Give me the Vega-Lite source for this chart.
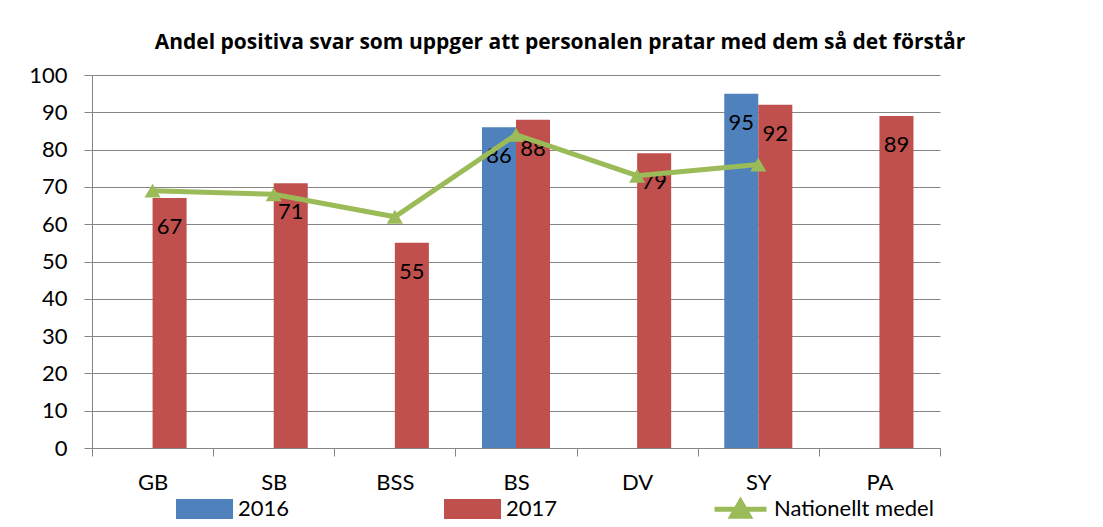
{
  "$schema": "https://vega.github.io/schema/vega-lite/v6.json",
  "width": 848,
  "height": 373,
  "autosize": {"type": "none"},
  "padding": {"left": 92, "top": 75, "right": 163, "bottom": 79},
  "background": "white",
  "config": {"view": {"stroke": null}, "font": "Lato"},
  "title": {
    "text": "Andel positiva svar som uppger att personalen pratar med dem så det förstår",
    "fontSize": 21,
    "fontWeight": "bold",
    "font": "Open Sans",
    "color": "black",
    "anchor": "middle",
    "frame": "group",
    "dx": 44,
    "offset": 11
  },
  "data": {
    "values": [
      {"kat": "GB", "serie": "2017", "value": 67},
      {"kat": "SB", "serie": "2017", "value": 71},
      {"kat": "BSS", "serie": "2017", "value": 55},
      {"kat": "BS", "serie": "2016", "value": 86},
      {"kat": "BS", "serie": "2017", "value": 88},
      {"kat": "DV", "serie": "2017", "value": 79},
      {"kat": "SY", "serie": "2016", "value": 95},
      {"kat": "SY", "serie": "2017", "value": 92},
      {"kat": "PA", "serie": "2017", "value": 89},
      {"kat": "GB", "serie": "Nationellt medel", "value": 69},
      {"kat": "SB", "serie": "Nationellt medel", "value": 68},
      {"kat": "BSS", "serie": "Nationellt medel", "value": 62},
      {"kat": "BS", "serie": "Nationellt medel", "value": 84},
      {"kat": "DV", "serie": "Nationellt medel", "value": 73},
      {"kat": "SY", "serie": "Nationellt medel", "value": 76}
    ]
  },
  "encoding": {
    "x": {
      "field": "kat",
      "type": "nominal",
      "sort": ["GB", "SB", "BSS", "BS", "DV", "SY", "PA"],
      "scale": {"paddingInner": 0, "paddingOuter": 0},
      "axis": {
        "title": null,
        "labelAngle": 0,
        "labelFontSize": 22,
        "labelColor": "black",
        "labelPadding": 16,
        "tickSize": 8,
        "tickColor": "#868686",
        "domainColor": "#868686",
        "tickBand": "extent",
        "grid": false
      }
    },
    "y": {
      "field": "value",
      "type": "quantitative",
      "scale": {"domain": [0, 100]},
      "axis": {
        "title": null,
        "values": [0, 10, 20, 30, 40, 50, 60, 70, 80, 90, 100],
        "grid": true,
        "gridColor": "#868686",
        "gridOpacity": 1,
        "tickSize": 8,
        "tickColor": "#868686",
        "domainColor": "#868686",
        "labelFontSize": 22,
        "labelPadding": 17,
        "labelColor": "black"
      }
    }
  },
  "layer": [
    {
      "transform": [{"filter": "datum.serie != 'Nationellt medel'"}],
      "mark": {"type": "bar"},
      "encoding": {
        "xOffset": {
          "field": "serie",
          "type": "nominal",
          "scale": {"domain": ["2016", "2017"], "paddingInner": 0, "paddingOuter": 0.78}
        },
        "color": {
          "field": "serie",
          "type": "nominal",
          "scale": {
            "domain": ["2016", "2017", "Nationellt medel"],
            "range": ["#4F81BD", "#C0504D", "#9BBB59"]
          },
          "legend": {
            "title": null,
            "orient": "none",
            "legendX": 84,
            "legendY": 405,
            "direction": "horizontal",
            "columns": 3,
            "gridAlign": "all",
            "columnPadding": 38,
            "labelFontSize": 22,
            "labelColor": "black",
            "labelOffset": 5,
            "symbolSize": 2704,
            "encode": {
              "symbols": {
                "update": {
                  "shape": {"signal": "datum.value === 'Nationellt medel' ? 'M-1,0L1,0M-0.33,0.27L0,-0.3L0.33,0.27Z' : 'M-1,-0.29L1,-0.29L1,0.29L-1,0.29Z'"},
                  "fill": {"scale": "color", "field": "value"},
                  "stroke": {"signal": "datum.value === 'Nationellt medel' ? '#9BBB59' : null"},
                  "strokeWidth": {"value": 5},
                  "opacity": {"value": 1},
                  "fillOpacity": {"value": 1}
                }
              }
            }
          }
        }
      }
    },
    {
      "transform": [{"filter": "datum.serie != 'Nationellt medel'"}],
      "mark": {"type": "text", "baseline": "middle", "dy": 29, "fontSize": 22, "color": "black"},
      "encoding": {
        "xOffset": {
          "field": "serie",
          "type": "nominal",
          "scale": {"domain": ["2016", "2017"], "paddingInner": 0, "paddingOuter": 0.78}
        },
        "text": {"field": "value", "type": "quantitative"}
      }
    },
    {
      "transform": [{"filter": "datum.serie == 'Nationellt medel'"}],
      "mark": {"type": "line", "strokeWidth": 5},
      "encoding": {
        "color": {"field": "serie", "type": "nominal"}
      }
    },
    {
      "transform": [{"filter": "datum.serie == 'Nationellt medel'"}],
      "mark": {"type": "point", "shape": "triangle-up", "filled": true, "size": 260, "opacity": 1},
      "encoding": {
        "color": {"field": "serie", "type": "nominal"}
      }
    }
  ]
}
